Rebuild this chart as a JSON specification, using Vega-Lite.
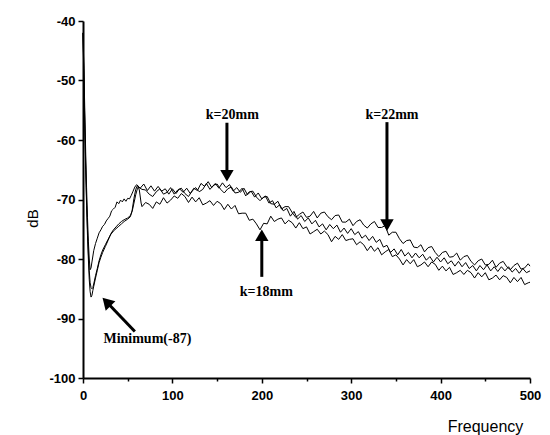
{
"$schema": "https://vega.github.io/schema/vega-lite/v6.json",
"width": 447, "height": 357,
"autosize": {"type": "none"},
"padding": {"left": 83, "top": 21, "right": 20, "bottom": 57},
"background": "white",
"config": {"view": {"stroke": null}},
"datasets": {
"lines": [
{"s":"A","x":0,"y":-42},{"s":"A","x":1,"y":-48},{"s":"A","x":2,"y":-55},{"s":"A","x":3,"y":-62},{"s":"A","x":4,"y":-68},{"s":"A","x":5,"y":-73},{"s":"A","x":6,"y":-77},{"s":"A","x":7,"y":-80},{"s":"A","x":8,"y":-81.8},{"s":"A","x":9,"y":-81.5},{"s":"A","x":10,"y":-80.5},{"s":"A","x":12,"y":-78.6},{"s":"A","x":14,"y":-77.4},{"s":"A","x":16,"y":-76.5},{"s":"A","x":18,"y":-75.6},{"s":"A","x":20,"y":-75.1},{"s":"A","x":22,"y":-74.5},{"s":"A","x":24,"y":-74.2},{"s":"A","x":26,"y":-73.6},{"s":"A","x":28,"y":-73.2},{"s":"A","x":30,"y":-72.8},{"s":"A","x":32,"y":-71.9},{"s":"A","x":34,"y":-71.6},{"s":"A","x":36,"y":-71.3},{"s":"A","x":38,"y":-70.4},{"s":"A","x":40,"y":-70.7},{"s":"A","x":42,"y":-70.1},{"s":"A","x":44,"y":-70.4},{"s":"A","x":46,"y":-69.9},{"s":"A","x":48,"y":-70.3},{"s":"A","x":50,"y":-69.8},{"s":"A","x":52,"y":-69.9},{"s":"A","x":54,"y":-69.3},{"s":"A","x":56,"y":-68.6},{"s":"A","x":58,"y":-67.9},
{"s":"A","x":60,"y":-67.5},{"s":"A","x":64,"y":-68.1},{"s":"A","x":68,"y":-67.4},{"s":"A","x":72,"y":-68.5},{"s":"A","x":76,"y":-67.7},{"s":"A","x":80,"y":-68.6},{"s":"A","x":84,"y":-67.8},{"s":"A","x":88,"y":-68.6},{"s":"A","x":92,"y":-68.2},{"s":"A","x":96,"y":-69.1},{"s":"A","x":100,"y":-68.2},{"s":"A","x":104,"y":-69.0},{"s":"A","x":108,"y":-68.2},{"s":"A","x":112,"y":-68.8},{"s":"A","x":116,"y":-68.1},{"s":"A","x":120,"y":-69.0},{"s":"A","x":124,"y":-68.1},{"s":"A","x":128,"y":-68.5},{"s":"A","x":132,"y":-67.3},{"s":"A","x":136,"y":-67.8},{"s":"A","x":140,"y":-67.0},{"s":"A","x":144,"y":-68.0},{"s":"A","x":148,"y":-67.3},{"s":"A","x":152,"y":-68.1},{"s":"A","x":156,"y":-67.2},{"s":"A","x":160,"y":-68.0},{"s":"A","x":164,"y":-67.5},{"s":"A","x":168,"y":-68.6},{"s":"A","x":172,"y":-68.0},{"s":"A","x":176,"y":-68.8},{"s":"A","x":180,"y":-68.1},{"s":"A","x":184,"y":-69.2},{"s":"A","x":188,"y":-68.6},{"s":"A","x":192,"y":-69.6},{"s":"A","x":196,"y":-68.9},{"s":"A","x":200,"y":-69.9},{"s":"A","x":204,"y":-69.4},{"s":"A","x":208,"y":-70.6},{"s":"A","x":212,"y":-70.2},{"s":"A","x":216,"y":-71.4},{"s":"A","x":220,"y":-70.9},{"s":"A","x":224,"y":-71.9},{"s":"A","x":228,"y":-71.5},{"s":"A","x":232,"y":-72.8},{"s":"A","x":236,"y":-72.0},{"s":"A","x":240,"y":-73.3},{"s":"A","x":244,"y":-72.7},{"s":"A","x":248,"y":-73.7},{"s":"A","x":252,"y":-73.1},{"s":"A","x":256,"y":-74.1},{"s":"A","x":260,"y":-73.5},{"s":"A","x":264,"y":-74.6},{"s":"A","x":268,"y":-74.1},{"s":"A","x":272,"y":-75.1},{"s":"A","x":276,"y":-74.2},{"s":"A","x":280,"y":-74.9},{"s":"A","x":284,"y":-74.3},{"s":"A","x":288,"y":-75.5},{"s":"A","x":292,"y":-74.8},{"s":"A","x":296,"y":-75.7},{"s":"A","x":300,"y":-74.9},{"s":"A","x":304,"y":-75.9},{"s":"A","x":308,"y":-75.4},{"s":"A","x":312,"y":-76.5},{"s":"A","x":316,"y":-76.0},{"s":"A","x":320,"y":-76.9},{"s":"A","x":324,"y":-76.2},{"s":"A","x":328,"y":-77.2},{"s":"A","x":332,"y":-76.7},{"s":"A","x":336,"y":-78.0},{"s":"A","x":340,"y":-77.7},{"s":"A","x":344,"y":-78.9},{"s":"A","x":348,"y":-78.3},{"s":"A","x":352,"y":-79.3},{"s":"A","x":356,"y":-78.4},{"s":"A","x":360,"y":-79.5},{"s":"A","x":364,"y":-78.9},{"s":"A","x":368,"y":-79.8},{"s":"A","x":372,"y":-79.0},{"s":"A","x":376,"y":-79.8},{"s":"A","x":380,"y":-79.2},{"s":"A","x":384,"y":-80.2},{"s":"A","x":388,"y":-79.6},{"s":"A","x":392,"y":-80.5},{"s":"A","x":396,"y":-79.7},{"s":"A","x":400,"y":-80.5},{"s":"A","x":404,"y":-79.8},{"s":"A","x":408,"y":-80.8},{"s":"A","x":412,"y":-80.3},{"s":"A","x":416,"y":-81.2},{"s":"A","x":420,"y":-80.4},{"s":"A","x":424,"y":-81.3},{"s":"A","x":428,"y":-80.6},{"s":"A","x":432,"y":-81.6},{"s":"A","x":436,"y":-81.1},{"s":"A","x":440,"y":-82.0},{"s":"A","x":444,"y":-81.1},{"s":"A","x":448,"y":-81.8},{"s":"A","x":452,"y":-81.0},{"s":"A","x":456,"y":-82.0},{"s":"A","x":460,"y":-81.3},{"s":"A","x":464,"y":-82.1},{"s":"A","x":468,"y":-81.3},{"s":"A","x":472,"y":-82.0},{"s":"A","x":476,"y":-81.3},{"s":"A","x":480,"y":-82.2},{"s":"A","x":484,"y":-81.6},{"s":"A","x":488,"y":-82.4},{"s":"A","x":492,"y":-81.6},{"s":"A","x":496,"y":-82.3},{"s":"A","x":500,"y":-82.0},
{"s":"B","x":0,"y":-42},{"s":"B","x":1,"y":-49},{"s":"B","x":2,"y":-57},{"s":"B","x":3,"y":-64},{"s":"B","x":4,"y":-70},{"s":"B","x":5,"y":-75},{"s":"B","x":6,"y":-79},{"s":"B","x":7,"y":-82},{"s":"B","x":8,"y":-84},{"s":"B","x":9,"y":-84.8},{"s":"B","x":10,"y":-85.0},{"s":"B","x":11,"y":-84.8},{"s":"B","x":12,"y":-84.2},{"s":"B","x":14,"y":-82.8},{"s":"B","x":16,"y":-81.6},{"s":"B","x":18,"y":-80.3},{"s":"B","x":20,"y":-79.3},{"s":"B","x":22,"y":-78.5},{"s":"B","x":25,"y":-77.6},{"s":"B","x":28,"y":-76.7},{"s":"B","x":31,"y":-75.9},{"s":"B","x":34,"y":-75.3},{"s":"B","x":37,"y":-74.9},{"s":"B","x":40,"y":-74.5},{"s":"B","x":43,"y":-74.1},{"s":"B","x":46,"y":-73.7},{"s":"B","x":50,"y":-73.3},{"s":"B","x":53,"y":-72.9},{"s":"B","x":55,"y":-71.8},{"s":"B","x":57,"y":-69.8},{"s":"B","x":59,"y":-68.3},{"s":"B","x":61,"y":-67.6},{"s":"B","x":63,"y":-68.4},{"s":"B","x":65,"y":-70.6},
{"s":"B","x":66,"y":-71.2},{"s":"B","x":70,"y":-70.5},{"s":"B","x":74,"y":-70.8},{"s":"B","x":78,"y":-71.5},{"s":"B","x":82,"y":-70.4},{"s":"B","x":86,"y":-70.8},{"s":"B","x":90,"y":-69.7},{"s":"B","x":94,"y":-70.6},{"s":"B","x":98,"y":-70.1},{"s":"B","x":102,"y":-69.4},{"s":"B","x":106,"y":-69.8},{"s":"B","x":110,"y":-69.0},{"s":"B","x":114,"y":-69.5},{"s":"B","x":118,"y":-70.5},{"s":"B","x":122,"y":-69.6},{"s":"B","x":126,"y":-70.4},{"s":"B","x":130,"y":-69.7},{"s":"B","x":134,"y":-70.9},{"s":"B","x":138,"y":-70.6},{"s":"B","x":142,"y":-70.2},{"s":"B","x":146,"y":-71.0},{"s":"B","x":150,"y":-70.3},{"s":"B","x":154,"y":-70.7},{"s":"B","x":158,"y":-71.7},{"s":"B","x":162,"y":-70.8},{"s":"B","x":166,"y":-71.6},{"s":"B","x":170,"y":-71.0},{"s":"B","x":174,"y":-72.4},{"s":"B","x":178,"y":-72.3},{"s":"B","x":182,"y":-72.3},{"s":"B","x":186,"y":-73.5},{"s":"B","x":190,"y":-73.3},{"s":"B","x":194,"y":-74.1},{"s":"B","x":198,"y":-75.1},{"s":"B","x":202,"y":-74.0},{"s":"B","x":206,"y":-74.1},{"s":"B","x":210,"y":-72.8},{"s":"B","x":214,"y":-73.7},{"s":"B","x":218,"y":-73.3},{"s":"B","x":222,"y":-73.1},{"s":"B","x":226,"y":-74.1},{"s":"B","x":230,"y":-73.5},{"s":"B","x":234,"y":-73.9},{"s":"B","x":238,"y":-74.8},{"s":"B","x":242,"y":-73.9},{"s":"B","x":246,"y":-74.9},{"s":"B","x":250,"y":-74.6},{"s":"B","x":254,"y":-75.8},{"s":"B","x":258,"y":-75.4},{"s":"B","x":262,"y":-75.0},{"s":"B","x":266,"y":-75.8},{"s":"B","x":270,"y":-75.3},{"s":"B","x":274,"y":-75.9},{"s":"B","x":278,"y":-77.1},{"s":"B","x":282,"y":-76.2},{"s":"B","x":286,"y":-76.7},{"s":"B","x":290,"y":-75.9},{"s":"B","x":294,"y":-76.9},{"s":"B","x":298,"y":-76.7},{"s":"B","x":302,"y":-76.6},{"s":"B","x":306,"y":-77.6},{"s":"B","x":310,"y":-77.1},{"s":"B","x":314,"y":-77.6},{"s":"B","x":318,"y":-78.6},{"s":"B","x":322,"y":-77.8},{"s":"B","x":326,"y":-78.7},{"s":"B","x":330,"y":-78.1},{"s":"B","x":334,"y":-79.3},{"s":"B","x":338,"y":-78.8},{"s":"B","x":342,"y":-78.4},{"s":"B","x":346,"y":-79.6},{"s":"B","x":350,"y":-79.3},{"s":"B","x":354,"y":-80.0},{"s":"B","x":358,"y":-81.0},{"s":"B","x":362,"y":-80.1},{"s":"B","x":366,"y":-80.8},{"s":"B","x":370,"y":-80.1},{"s":"B","x":374,"y":-81.3},{"s":"B","x":378,"y":-81.0},{"s":"B","x":382,"y":-80.5},{"s":"B","x":386,"y":-81.3},{"s":"B","x":390,"y":-80.5},{"s":"B","x":394,"y":-80.9},{"s":"B","x":398,"y":-81.9},{"s":"B","x":402,"y":-81.2},{"s":"B","x":406,"y":-82.0},{"s":"B","x":410,"y":-81.4},{"s":"B","x":414,"y":-82.6},{"s":"B","x":418,"y":-82.3},{"s":"B","x":422,"y":-81.9},{"s":"B","x":426,"y":-82.6},{"s":"B","x":430,"y":-81.9},{"s":"B","x":434,"y":-82.3},{"s":"B","x":438,"y":-83.2},{"s":"B","x":442,"y":-82.3},{"s":"B","x":446,"y":-83.0},{"s":"B","x":450,"y":-82.3},{"s":"B","x":454,"y":-83.5},{"s":"B","x":458,"y":-83.2},{"s":"B","x":462,"y":-82.7},{"s":"B","x":466,"y":-83.5},{"s":"B","x":470,"y":-82.8},{"s":"B","x":474,"y":-83.1},{"s":"B","x":478,"y":-84.0},{"s":"B","x":482,"y":-83.1},{"s":"B","x":486,"y":-83.8},{"s":"B","x":490,"y":-83.1},{"s":"B","x":494,"y":-84.3},{"s":"B","x":498,"y":-84.0},{"s":"B","x":500,"y":-83.9},
{"s":"C","x":0,"y":-42},{"s":"C","x":1,"y":-50},{"s":"C","x":2,"y":-58},{"s":"C","x":3,"y":-65},{"s":"C","x":4,"y":-71},{"s":"C","x":5,"y":-76},{"s":"C","x":6,"y":-80},{"s":"C","x":7,"y":-83.5},{"s":"C","x":8,"y":-85.5},{"s":"C","x":9,"y":-86.4},{"s":"C","x":10,"y":-86.1},{"s":"C","x":11,"y":-85.3},{"s":"C","x":12,"y":-84.6},{"s":"C","x":14,"y":-83.2},{"s":"C","x":16,"y":-81.9},{"s":"C","x":18,"y":-80.6},{"s":"C","x":20,"y":-79.7},{"s":"C","x":22,"y":-78.9},{"s":"C","x":25,"y":-77.9},{"s":"C","x":28,"y":-76.9},{"s":"C","x":31,"y":-75.8},{"s":"C","x":34,"y":-75.1},{"s":"C","x":37,"y":-74.6},{"s":"C","x":40,"y":-74.1},{"s":"C","x":43,"y":-73.7},{"s":"C","x":46,"y":-73.4},{"s":"C","x":50,"y":-73.1},{"s":"C","x":53,"y":-72.7},{"s":"C","x":55,"y":-72.0},{"s":"C","x":57,"y":-70.6},{"s":"C","x":59,"y":-69.2},{"s":"C","x":61,"y":-68.1},
{"s":"C","x":62,"y":-67.9},{"s":"C","x":66,"y":-68.3},{"s":"C","x":70,"y":-68.4},{"s":"C","x":74,"y":-69.1},{"s":"C","x":78,"y":-69.5},{"s":"C","x":82,"y":-68.7},{"s":"C","x":86,"y":-68.2},{"s":"C","x":90,"y":-69.1},{"s":"C","x":94,"y":-68.8},{"s":"C","x":98,"y":-68.0},{"s":"C","x":102,"y":-69.1},{"s":"C","x":106,"y":-68.4},{"s":"C","x":110,"y":-68.1},{"s":"C","x":114,"y":-69.0},{"s":"C","x":118,"y":-69.5},{"s":"C","x":122,"y":-68.6},{"s":"C","x":126,"y":-68.0},{"s":"C","x":130,"y":-68.7},{"s":"C","x":134,"y":-68.3},{"s":"C","x":138,"y":-67.3},{"s":"C","x":142,"y":-68.3},{"s":"C","x":146,"y":-67.6},{"s":"C","x":150,"y":-67.4},{"s":"C","x":154,"y":-68.3},{"s":"C","x":158,"y":-68.9},{"s":"C","x":162,"y":-68.2},{"s":"C","x":166,"y":-67.9},{"s":"C","x":170,"y":-68.9},{"s":"C","x":174,"y":-68.8},{"s":"C","x":178,"y":-68.1},{"s":"C","x":182,"y":-69.4},{"s":"C","x":186,"y":-68.7},{"s":"C","x":190,"y":-68.6},{"s":"C","x":194,"y":-69.6},{"s":"C","x":198,"y":-70.2},{"s":"C","x":202,"y":-69.6},{"s":"C","x":206,"y":-69.5},{"s":"C","x":210,"y":-70.7},{"s":"C","x":214,"y":-70.8},{"s":"C","x":218,"y":-70.3},{"s":"C","x":222,"y":-71.6},{"s":"C","x":226,"y":-71.2},{"s":"C","x":230,"y":-71.2},{"s":"C","x":234,"y":-72.2},{"s":"C","x":238,"y":-73.0},{"s":"C","x":242,"y":-72.5},{"s":"C","x":246,"y":-72.1},{"s":"C","x":250,"y":-73.0},{"s":"C","x":254,"y":-72.8},{"s":"C","x":258,"y":-72.0},{"s":"C","x":262,"y":-73.1},{"s":"C","x":266,"y":-72.3},{"s":"C","x":270,"y":-72.1},{"s":"C","x":274,"y":-72.9},{"s":"C","x":278,"y":-73.4},{"s":"C","x":282,"y":-72.7},{"s":"C","x":286,"y":-72.6},{"s":"C","x":290,"y":-73.8},{"s":"C","x":294,"y":-73.8},{"s":"C","x":298,"y":-73.3},{"s":"C","x":302,"y":-74.4},{"s":"C","x":306,"y":-73.7},{"s":"C","x":310,"y":-73.4},{"s":"C","x":314,"y":-74.3},{"s":"C","x":318,"y":-74.8},{"s":"C","x":322,"y":-74.1},{"s":"C","x":326,"y":-73.7},{"s":"C","x":330,"y":-74.7},{"s":"C","x":334,"y":-74.7},{"s":"C","x":338,"y":-74.4},{"s":"C","x":342,"y":-76.0},{"s":"C","x":346,"y":-75.5},{"s":"C","x":350,"y":-75.5},{"s":"C","x":354,"y":-76.6},{"s":"C","x":358,"y":-77.4},{"s":"C","x":362,"y":-76.9},{"s":"C","x":366,"y":-76.8},{"s":"C","x":370,"y":-78.0},{"s":"C","x":374,"y":-78.1},{"s":"C","x":378,"y":-77.6},{"s":"C","x":382,"y":-78.8},{"s":"C","x":386,"y":-78.1},{"s":"C","x":390,"y":-77.9},{"s":"C","x":394,"y":-78.9},{"s":"C","x":398,"y":-79.6},{"s":"C","x":402,"y":-78.9},{"s":"C","x":406,"y":-78.7},{"s":"C","x":410,"y":-79.7},{"s":"C","x":414,"y":-79.6},{"s":"C","x":418,"y":-79.0},{"s":"C","x":422,"y":-80.2},{"s":"C","x":426,"y":-79.6},{"s":"C","x":430,"y":-79.4},{"s":"C","x":434,"y":-80.4},{"s":"C","x":438,"y":-81.0},{"s":"C","x":442,"y":-80.3},{"s":"C","x":446,"y":-80.0},{"s":"C","x":450,"y":-81.0},{"s":"C","x":454,"y":-80.9},{"s":"C","x":458,"y":-80.2},{"s":"C","x":462,"y":-81.4},{"s":"C","x":466,"y":-80.7},{"s":"C","x":470,"y":-80.4},{"s":"C","x":474,"y":-81.3},{"s":"C","x":478,"y":-81.8},{"s":"C","x":482,"y":-81.1},{"s":"C","x":486,"y":-80.7},{"s":"C","x":490,"y":-81.7},{"s":"C","x":494,"y":-81.5},{"s":"C","x":498,"y":-80.8},{"s":"C","x":500,"y":-81.2}
],
"labels": [
{"label":"k=20mm","x":167,"y":-55.8},
{"label":"k=22mm","x":345.6,"y":-55.8},
{"label":"k=18mm","x":205,"y":-85.6},
{"label":"Minimum(-87)","x":72,"y":-93.4}
],
"shafts": [
{"x":161,"y":-57.1,"x2":161,"y2":-65.5},
{"x":340,"y":-57.0,"x2":340,"y2":-73.8},
{"x":200,"y":-83.0,"x2":200,"y2":-76.5},
{"x":58,"y":-92.2,"x2":27,"y2":-87.3}
],
"heads": [
{"x":161,"y":-66.0,"angle":180},
{"x":340,"y":-74.3,"angle":180},
{"x":200,"y":-76.0,"angle":0},
{"x":26.3,"y":-87.2,"angle":316}
]
},
"layer": [
{
"data": {"name": "lines"},
"mark": {"type": "line", "strokeWidth": 1, "interpolate": "linear"},
"encoding": {
"x": {"field": "x", "type": "quantitative",
"scale": {"domain": [0, 500], "nice": false, "zero": false},
"axis": {
"values": [0,50,100,150,200,250,300,350,400,450,500],
"labelExpr": "datum.value % 100 === 0 ? toString(datum.value) : ''",
"grid": false, "domainColor": "black", "domainWidth": 2,
"tickColor": "black", "tickWidth": 1.5,
"tickSize": {"condition": {"test": "datum.value % 100 !== 0", "value": 3}, "value": 5},
"labelFont": "Liberation Sans", "labelFontSize": 13, "labelFontWeight": "bold", "labelColor": "black", "labelPadding": 6,
"labelFlush": false,
"title": "Frequency", "titleFont": "Liberation Sans", "titleFontSize": 16, "titleFontWeight": "normal",
"titleColor": "black", "titleX": 402, "titleY": 40, "titleAlign": "center", "titleBaseline": "top"
}},
"y": {"field": "y", "type": "quantitative",
"scale": {"domain": [-100, -40], "nice": false, "zero": false},
"axis": {
"values": [-100,-95,-90,-85,-80,-75,-70,-65,-60,-55,-50,-45,-40],
"labelExpr": "datum.value % 10 === 0 ? toString(datum.value) : ''",
"grid": false, "domainColor": "black", "domainWidth": 2,
"tickColor": "black", "tickWidth": 1.5,
"tickSize": {"condition": {"test": "datum.value % 10 !== 0", "value": 3}, "value": 5},
"labelFont": "Liberation Sans", "labelFontSize": 13, "labelFontWeight": "bold", "labelColor": "black", "labelPadding": 3,
"labelFlush": false,
"title": "dB", "titleFont": "Liberation Sans", "titleFontSize": 15, "titleFontWeight": "normal",
"titleColor": "black", "titleX": -51, "titleY": 197, "titleAlign": "center", "titleBaseline": "middle", "titleAngle": -90
}},
"detail": {"field": "s", "type": "nominal"},
"color": {"value": "black"}
}
},
{
"data": {"name": "shafts"},
"mark": {"type": "rule", "strokeWidth": 3, "color": "black"},
"encoding": {
"x": {"field": "x", "type": "quantitative"},
"y": {"field": "y", "type": "quantitative"},
"x2": {"field": "x2"},
"y2": {"field": "y2"}
}
},
{
"data": {"name": "heads"},
"mark": {"type": "point", "shape": "triangle-up", "filled": true, "color": "black", "size": 180, "opacity": 1},
"encoding": {
"x": {"field": "x", "type": "quantitative"},
"y": {"field": "y", "type": "quantitative"},
"angle": {"field": "angle", "type": "quantitative", "scale": null}
}
},
{
"data": {"name": "labels"},
"mark": {"type": "text", "font": "Liberation Serif", "fontSize": 14, "fontWeight": "bold", "color": "black", "align": "center", "baseline": "middle"},
"encoding": {
"x": {"field": "x", "type": "quantitative"},
"y": {"field": "y", "type": "quantitative"},
"text": {"field": "label"}
}
}
]
}
